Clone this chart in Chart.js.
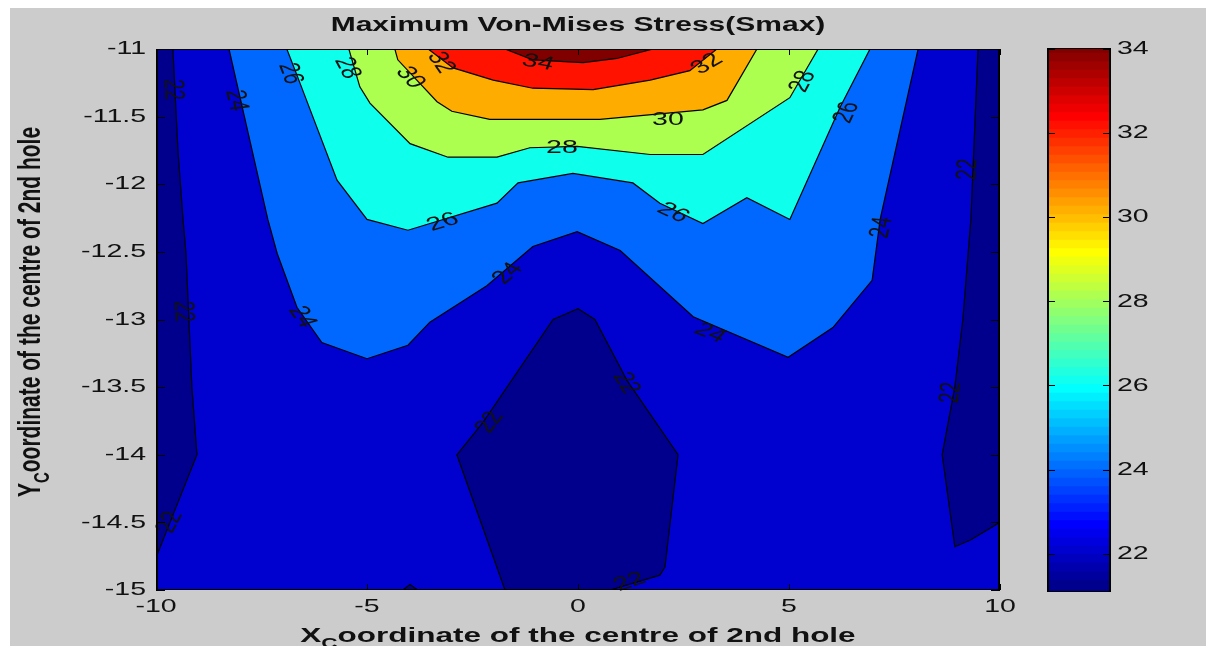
<!DOCTYPE html>
<html>
<head>
<meta charset="utf-8">
<script src="https://cdn.jsdelivr.net/npm/chart.js@4.4.1/dist/chart.umd.min.js"></script>
<style>
  html, body { margin: 0; padding: 0; background: #ffffff; width: 1206px; height: 646px; overflow: hidden; }
  #fig { position: absolute; left: 10px; top: 8px; width: 1196px; height: 638px; background: #cccccc; }
  #main { position: absolute; left: 0; top: 0; }
  #cbar { position: absolute; left: 1030px; top: 0; }
</style>
</head>
<body>
<div id="fig"></div>
<canvas id="main" width="1206" height="646" style="width:1206px;height:646px"></canvas>
<canvas id="cbar" width="176" height="646" style="width:176px;height:646px"></canvas>
<script>
// ---- axes ----
const xTickValues = [-10, -5, 0, 5, 10];
const yTickValues = [-11, -11.5, -12, -12.5, -13, -13.5, -14, -14.5, -15];
const colourbarTicks = [22, 24, 26, 28, 30, 32, 34];
const stressMin = 21.09;
const stressMax = 34.02;

// ---- contour regions of Smax (x, y of hole centre), one closed outline each ----
// whole plate, 22 and above
const plateAbove22 = [[-10, -11], [10, -11], [10, -15], [-10, -15]];
// pockets below 22
const below22West = [[-10, -11], [-9.60, -11], [-9.48, -11.75], [-9.36, -12.26], [-9.29, -12.51], [-9.15, -13.5], [-9.03, -14.0], [-10, -14.76]];
const below22East = [[10, -11], [9.48, -11], [9.31, -12.26], [9.12, -13.0], [8.93, -13.5], [8.63, -14.0], [8.93, -14.68], [9.30, -14.63], [10, -14.5]];
const below22Centre = [[-1.73, -15], [-2.87, -14.0], [-2.25, -13.76], [-0.59, -13.0], [0.0, -12.92], [0.40, -13.0], [1.16, -13.45], [2.37, -14.0], [2.06, -14.83], [1.94, -14.89], [0.76, -15]];
const below22Spot = [[-4.15, -15], [-3.98, -14.96], [-3.80, -15]];
// 24 and above
const above24 = [[-8.27, -11], [-7.35, -12.26], [-7.13, -12.51], [-6.66, -12.91], [-6.07, -13.17], [-5.0, -13.29], [-4.03, -13.19], [-3.51, -13.02], [-2.16, -12.75], [-1.07, -12.46], [-0.02, -12.35], [1.0, -12.49], [2.73, -12.98], [4.98, -13.28], [6.04, -13.06], [6.97, -12.71], [7.16, -12.26], [8.06, -11]];
// 26 and above
const above26 = [[-6.90, -11], [-6.64, -11.21], [-5.71, -11.97], [-5.0, -12.26], [-4.03, -12.34], [-1.92, -12.14], [-1.42, -11.99], [-0.12, -11.92], [1.30, -11.99], [1.94, -12.14], [2.96, -12.29], [4.0, -12.10], [5.02, -12.26], [6.21, -11.43], [6.92, -11]];
// 28 and above
const above28 = [[-5.43, -11], [-5.17, -11.28], [-4.93, -11.40], [-3.98, -11.70], [-3.08, -11.80], [-1.92, -11.80], [-1.14, -11.73], [-0.02, -11.72], [1.71, -11.78], [2.96, -11.78], [5.02, -11.36], [5.69, -11]];
// 30 and above
const above30 = [[-4.34, -11], [-4.27, -11.08], [-3.34, -11.39], [-2.99, -11.46], [-2.09, -11.52], [0.52, -11.52], [2.96, -11.45], [3.53, -11.38], [4.24, -11]];
// 32 and above
const above32 = [[-3.55, -11], [-2.96, -11.14], [-2.01, -11.23], [-1.07, -11.29], [0.36, -11.30], [1.71, -11.23], [2.65, -11.16], [3.29, -11]];
// 34 and above
const above34 = [[-1.73, -11], [-1.07, -11.08], [0.12, -11.10], [0.92, -11.07], [1.78, -11]];

// ---- contour labels: x, y, text, direction of the line (deg) ----
const contourLabels = [
  [-9.60, -11.30, '22', 87], [-8.10, -11.38, '24', 77], [-6.82, -11.18, '26', 69],
  [-5.47, -11.14, '28', 62], [-3.98, -11.21, '30', 47], [-3.25, -11.10, '32', 55],
  [-0.95, -11.10, '34', 10], [3.06, -11.11, '32', -30], [2.13, -11.52, '30', 0],
  [-0.38, -11.73, '28', 0], [5.33, -11.24, '28', -62], [6.37, -11.47, '26', -65],
  [-3.20, -12.28, '26', -17], [2.25, -12.21, '26', 25], [7.20, -12.32, '24', -77],
  [-6.54, -12.98, '24', 55], [-1.66, -12.66, '24', -40], [3.13, -13.10, '24', 22],
  [-9.36, -12.94, '22', 88], [-9.67, -14.50, '22', -62], [-2.09, -13.76, '22', -52],
  [1.14, -13.47, '22', 58], [1.23, -14.94, '22', -18], [9.24, -11.89, '22', -86],
  [8.84, -13.54, '22', -84]
];

const titleText = 'Maximum Von-Mises Stress(Smax)';
const xTitleParts = ['X', 'C', 'oordinate of the centre of 2nd hole'];
const yTitleParts = ['Y', 'C', 'oordinate of the centre of 2nd hole'];

// ---- styling ----
const FONT = '"Liberation Sans", Arial, Helvetica, sans-serif';
const STRETCH = 1.5;   // lettering is drawn wide
const TEXT_COLOUR = '#111111';
// fill colour of each band, keyed by its lower contour level ('low' = below 22)
const bandColours = {
  low: 'rgb(0,0,140)', 22: 'rgb(0,0,207)', 24: 'rgb(0,104,255)', 26: 'rgb(14,255,236)',
  28: 'rgb(172,255,78)', 30: 'rgb(255,172,0)', 32: 'rgb(255,18,0)', 34: 'rgb(128,0,0)'
};

// MATLAB-style 64 entry jet colormap for the colour bar
function jet64() {
  const n = 16, u = [];
  for (let k = 1; k <= n; k++) u.push(k / n);
  for (let k = 0; k < n - 1; k++) u.push(1);
  for (let k = n; k >= 1; k--) u.push(k / n);
  const m = 64, g0 = 8;
  const cmap = Array.from({ length: m }, () => [0, 0, 0]);
  u.forEach((val, j) => {
    const g = g0 + j + 1, r = g + n, b = g - n;
    if (r >= 1 && r <= m) cmap[r - 1][0] = val;
    if (g >= 1 && g <= m) cmap[g - 1][1] = val;
    if (b >= 1 && b <= m) cmap[b - 1][2] = val;
  });
  return cmap.map(([r, g, b]) => `rgb(${Math.round(r * 255)},${Math.round(g * 255)},${Math.round(b * 255)})`);
}
const JET = jet64();

function stretchedText(ctx, text, x, y, opts = {}) {
  const { size = 19, weight = 'normal', align = 'center', base = 'middle', angle = 0 } = opts;
  ctx.save();
  ctx.translate(x, y);
  ctx.scale(STRETCH, 1);
  if (angle) {
    const a = angle * Math.PI / 180;
    ctx.rotate(Math.atan2(STRETCH * Math.sin(a), Math.cos(a)));
  }
  ctx.font = `${weight} ${size}px ${FONT}`;
  ctx.textAlign = align;
  ctx.textBaseline = base;
  ctx.fillStyle = TEXT_COLOUR;
  ctx.fillText(text, 0, 0);
  ctx.restore();
}

function axisTitle(ctx, parts, x, y, vertical) {
  ctx.save();
  ctx.translate(x, y);
  if (vertical) { ctx.rotate(-Math.PI / 2); ctx.scale(1, STRETCH); }
  else { ctx.scale(STRETCH, 1); }
  const big = `bold 21px ${FONT}`, small = `bold 15px ${FONT}`;
  ctx.font = big;
  const w1 = ctx.measureText(parts[0]).width, w3 = ctx.measureText(parts[2]).width;
  ctx.font = small;
  const w2 = ctx.measureText(parts[1]).width;
  let px = -(w1 + w2 + w3) / 2;
  ctx.fillStyle = TEXT_COLOUR;
  ctx.textAlign = 'left';
  ctx.textBaseline = 'alphabetic';
  ctx.font = big; ctx.fillText(parts[0], px, 0); px += w1;
  ctx.font = small; ctx.fillText(parts[1], px, 6); px += w2;
  ctx.font = big; ctx.fillText(parts[2], px, 0);
  ctx.restore();
}

// ---- filled contour layers, lowest first ----
const layers = [
  [plateAbove22, 22],
  [below22West, 'low'], [below22East, 'low'], [below22Centre, 'low'], [below22Spot, 'low'],
  [above24, 24], [above26, 26], [above28, 28], [above30, 30], [above32, 32], [above34, 34]
];

const axesDecor = {
  id: 'axesDecor',
  afterDraw(chart) {
    const { ctx, chartArea: a, scales: { x, y } } = chart;
    ctx.save();
    // contour labels
    contourLabels.forEach(([lx, ly, txt, ang]) => {
      stretchedText(ctx, txt, x.getPixelForValue(lx), y.getPixelForValue(ly), { size: 19, angle: ang });
    });
    // box
    ctx.strokeStyle = '#000';
    ctx.lineWidth = 1;
    ctx.strokeRect(a.left + 0.5, a.top + 0.5, a.right - a.left - 1, a.bottom - a.top - 1);
    ctx.fillStyle = '#000';
    ctx.fillRect(a.left, a.top, 2, a.bottom - a.top);
    ctx.fillRect(a.right - 2, a.top, 2, a.bottom - a.top);
    // inward tick marks
    ctx.beginPath();
    x.ticks.forEach(t => {
      const px = Math.round(x.getPixelForValue(t.value)) + 0.5;
      ctx.moveTo(px, a.bottom); ctx.lineTo(px, a.bottom - 6);
      ctx.moveTo(px, a.top); ctx.lineTo(px, a.top + 6);
    });
    y.ticks.forEach(t => {
      const py = Math.round(y.getPixelForValue(t.value)) + 0.5;
      ctx.moveTo(a.left, py); ctx.lineTo(a.left + 9, py);
      ctx.moveTo(a.right, py); ctx.lineTo(a.right - 9, py);
    });
    ctx.stroke();
    // tick labels
    x.ticks.forEach(t => {
      stretchedText(ctx, String(t.value), x.getPixelForValue(t.value), a.bottom + 17, { size: 19 });
    });
    y.ticks.forEach(t => {
      stretchedText(ctx, String(t.value), a.left - 10, y.getPixelForValue(t.value), { size: 19, align: 'right' });
    });
    // titles
    stretchedText(ctx, titleText, (a.left + a.right) / 2, 25, { size: 20, weight: 'bold' });
    axisTitle(ctx, xTitleParts, (a.left + a.right) / 2, 642, false);
    axisTitle(ctx, yTitleParts, 40, 312, true);
    ctx.restore();
  }
};

new Chart(document.getElementById('main'), {
  type: 'line',
  data: {
    datasets: layers.map(([pts, lvl], i) => ({
      data: pts.map(([px, py]) => ({ x: px, y: py })),
      fill: 'shape',
      backgroundColor: bandColours[lvl],
      borderColor: '#000',
      borderWidth: 1.2,
      pointRadius: 0,
      pointHoverRadius: 0,
      tension: 0,
      order: layers.length - i
    }))
  },
  options: {
    responsive: false,
    animation: false,
    events: [],
    layout: { padding: { left: 0, top: 49, right: 206, bottom: 0 } },
    plugins: { legend: { display: false }, tooltip: { enabled: false }, title: { display: false } },
    scales: {
      x: {
        type: 'linear', min: -10, max: 10,
        grid: { display: false, drawTicks: false }, border: { display: false },
        ticks: { display: false },
        afterBuildTicks: s => { s.ticks = xTickValues.map(v => ({ value: v })); },
        afterFit: s => { s.height = 56; }
      },
      y: {
        type: 'linear', min: -15, max: -11,
        grid: { display: false, drawTicks: false }, border: { display: false },
        ticks: { display: false },
        afterBuildTicks: s => { s.ticks = yTickValues.map(v => ({ value: v })); },
        afterFit: s => { s.width = 156; }
      }
    }
  },
  plugins: [axesDecor]
});

// ---- colour bar ----
const bandStep = (stressMax - stressMin) / 64;
const colourbarDecor = {
  id: 'colourbarDecor',
  afterDraw(chart) {
    const { ctx, chartArea: a, scales: { y } } = chart;
    ctx.save();
    ctx.strokeStyle = '#000';
    ctx.lineWidth = 1;
    ctx.strokeRect(a.left + 0.5, a.top + 0.5, a.right - a.left - 1, a.bottom - a.top - 1);
    ctx.fillStyle = '#000';
    ctx.fillRect(a.left, a.top, 2, a.bottom - a.top);
    ctx.fillRect(a.right - 2, a.top, 2, a.bottom - a.top);
    ctx.beginPath();
    y.ticks.forEach(t => {
      const py = Math.round(y.getPixelForValue(t.value)) + 0.5;
      ctx.moveTo(a.left, py); ctx.lineTo(a.left + 8, py);
      ctx.moveTo(a.right, py); ctx.lineTo(a.right - 8, py);
    });
    ctx.stroke();
    y.ticks.forEach(t => {
      stretchedText(ctx, String(t.value), a.right + 6, y.getPixelForValue(t.value), { size: 19, align: 'left' });
    });
    ctx.restore();
  }
};

new Chart(document.getElementById('cbar'), {
  type: 'bar',
  data: {
    labels: [''],
    datasets: JET.map((c, i) => ({
      data: [[stressMin + i * bandStep, Math.min(stressMax, stressMin + (i + 1.4) * bandStep)]],
      backgroundColor: c,
      borderWidth: 0,
      grouped: false,
      barPercentage: 1,
      categoryPercentage: 1
    }))
  },
  options: {
    responsive: false,
    animation: false,
    events: [],
    layout: { padding: { left: 17, top: 48, right: 0, bottom: 54 } },
    plugins: { legend: { display: false }, tooltip: { enabled: false } },
    scales: {
      x: { display: false },
      y: {
        position: 'right', min: stressMin, max: stressMax,
        grid: { display: false, drawTicks: false }, border: { display: false },
        ticks: { display: false },
        afterBuildTicks: s => { s.ticks = colourbarTicks.map(v => ({ value: v })); },
        afterFit: s => { s.width = 95; }
      }
    }
  },
  plugins: [colourbarDecor]
});
</script>
</body>
</html>
